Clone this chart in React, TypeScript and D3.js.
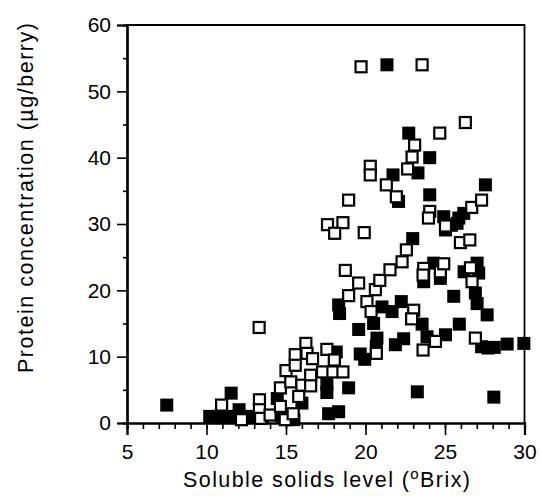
import React, { useEffect, useRef } from 'react';
import * as d3 from 'd3';

// Brix (x) and protein (y) values
const filledBrix = [7.5, 10.2, 10.8, 11.5, 11.55, 12.05, 12.75, 13.5, 14.45, 14.75, 15.5, 16.0,
  17.57, 17.57, 17.68, 18.31, 18.94, 18.16, 18.31, 18.37, 19.57, 19.67, 19.95, 20.51, 20.72,
  20.68, 21.04, 21.67, 22.25, 21.88, 22.4, 23.56, 23.87, 23.66, 24.29, 24.71, 25.03, 25.55,
  25.9, 26.2, 27.02, 27.12, 26.91, 27.02, 27.65, 27.3, 27.7, 28.1, 28.91, 29.96, 23.26, 28.07,
  21.35, 22.72, 24.04, 21.73, 23.3, 22.08, 24.04, 27.54, 26.18, 25.87, 25.76, 24.92, 25.03,
  22.97, 25.4];
const filledProtein = [2.7, 1.0, 1.0, 1.0, 4.5, 2.0, 1.0, 0.8, 3.7, 1.0, 0.5, 3.0,
  5.8, 4.6, 1.4, 1.7, 5.3, 10.7, 17.8, 16.5, 14.1, 10.4, 9.6, 15.0, 12.8,
  11.6, 17.5, 16.8, 18.3, 11.8, 12.7, 14.9, 13.0, 21.3, 24.1, 21.8, 13.3, 19.1,
  14.9, 22.8, 24.1, 22.6, 19.6, 18.0, 16.3, 11.5, 11.3, 11.4, 11.9, 12.0, 4.7, 3.9,
  54.0, 43.7, 40.0, 37.4, 37.7, 33.4, 34.4, 35.9, 31.6, 30.9, 30.1, 31.1, 29.1,
  27.8, 29.8];

const openBrix = [10.95, 12.2, 13.31, 13.33, 13.33, 13.4, 14.0, 14.65, 14.65, 14.95, 15.0,
  15.3, 15.45, 15.58, 15.58, 15.8, 16.0, 16.25, 16.32, 16.67, 16.55, 16.55, 17.3, 17.57,
  17.95, 18.04, 18.58, 17.61, 18.58, 18.06, 18.94, 19.92, 18.73, 19.57, 18.94, 20.09, 20.35,
  20.62, 20.9, 21.54, 22.3, 22.57, 20.68, 20.3, 20.3, 21.31, 21.94, 22.65, 22.93, 23.09,
  24.67, 26.28, 19.72, 23.56, 24.04, 23.96, 25.03, 25.97, 26.56, 26.68, 27.3, 23.66, 23.62,
  24.71, 24.92, 26.6, 26.7, 23.03, 22.9, 24.4, 23.62, 26.91];
const openProtein = [2.7, 0.5, 14.4, 3.5, 2.0, 0.7, 1.2, 2.5, 5.3, 0.5, 7.9,
  6.2, 1.4, 10.3, 8.7, 4.0, 5.7, 12.0, 10.5, 9.7, 7.2, 5.6, 7.7, 11.1,
  7.7, 9.5, 7.7, 29.9, 30.2, 28.6, 33.6, 28.7, 23.0, 21.1, 19.2, 18.3, 16.8,
  20.1, 21.5, 23.1, 24.3, 26.1, 10.5, 38.7, 37.4, 35.9, 34.1, 38.3, 40.1, 41.9,
  43.7, 45.3, 53.7, 54.0, 31.9, 30.9, 29.7, 27.2, 27.6, 32.5, 33.6, 23.3, 22.3,
  22.8, 24.0, 23.4, 21.3, 17.0, 15.7, 12.3, 11.0, 12.8];

const xTicks = [5, 10, 15, 20, 25, 30];
const yTicks = [0, 10, 20, 30, 40, 50, 60];

const App = () => {
  const ref = useRef<SVGSVGElement>(null);

  useEffect(() => {
    const width = 540;
    const height = 496;
    const margin = { top: 25, right: 15, bottom: 73, left: 127 };
    const font = 'Liberation Sans, Arial, Helvetica, sans-serif';

    const svg = d3.select(ref.current);
    svg.selectAll('*').remove();

    const x = d3.scaleLinear().domain([5, 30]).range([margin.left, width - margin.right - 0.5]);
    const y = d3.scaleLinear().domain([0, 60]).range([height - margin.bottom, margin.top]);

    // frame (top and right sides)
    svg.append('path')
      .attr('d', `M${x(5)},${y(60)}H${x(30)}V${y(0)}`)
      .attr('fill', 'none').attr('stroke', '#000').attr('stroke-width', 1.8);

    // x axis, major + minor ticks
    const gx = svg.append('g').attr('transform', `translate(0,${y(0)})`);
    gx.append('g').call(d3.axisBottom(x).tickValues(d3.range(5, 31, 1)).tickSize(6).tickFormat(() => ''));
    gx.append('g').call(d3.axisBottom(x).tickValues(xTicks).tickSize(12).tickPadding(6).tickFormat(d3.format('d')));

    // y axis, major + minor ticks
    const gy = svg.append('g').attr('transform', `translate(${x(5)},0)`);
    gy.append('g').call(d3.axisLeft(y).tickValues(d3.range(5, 60, 10)).tickSize(4).tickFormat(() => ''));
    gy.append('g').call(d3.axisLeft(y).tickValues(yTicks).tickSize(10).tickPadding(6).tickFormat(d3.format('d')));

    svg.selectAll('.domain').attr('stroke-width', 2.2);
    svg.selectAll('.tick line').attr('stroke-width', 1.6);
    svg.selectAll('.tick text').attr('font-family', font).attr('font-size', 21).attr('fill', '#000');
    gx.selectAll('.tick text').attr('dy', '0.85em');

    // data
    const s = 13;
    svg.append('g').selectAll('rect')
      .data(filledBrix.map((b, i) => [b, filledProtein[i]]))
      .enter().append('rect')
      .attr('x', d => x(d[0]) - s / 2)
      .attr('y', d => y(d[1]) - s / 2)
      .attr('width', s).attr('height', s)
      .attr('fill', '#000');

    const so = 11;
    svg.append('g').selectAll('rect')
      .data(openBrix.map((b, i) => [b, openProtein[i]]))
      .enter().append('rect')
      .attr('x', d => x(d[0]) - so / 2)
      .attr('y', d => y(d[1]) - so / 2)
      .attr('width', so).attr('height', so)
      .attr('fill', '#fff').attr('stroke', '#000').attr('stroke-width', 2.2);

    // axis titles (the scan's lettering is loosely spaced, so stretch with textLength)
    const xt = svg.append('text')
      .attr('x', 183).attr('y', 487)
      .attr('textLength', 287).attr('lengthAdjust', 'spacing')
      .attr('font-family', font).attr('font-size', 21.5);
    xt.append('tspan').text('Soluble solids level (');
    xt.append('tspan').attr('font-size', 15).attr('dy', -8).text('o');
    xt.append('tspan').attr('dy', 8).text('Brix)');

    svg.append('text')
      .attr('transform', `translate(33,${(y(0) + y(60)) / 2 - 26}) rotate(-90)`)
      .attr('text-anchor', 'middle').attr('font-family', font).attr('font-size', 21.5)
      .attr('textLength', 350).attr('lengthAdjust', 'spacing')
      .text('Protein concentration (µg/berry)');
  }, []);

  return (
    <svg ref={ref} width={540} height={496}
      style={{ position: 'absolute', left: 0, top: 0, background: '#fff' }} />
  );
};

export default App;
